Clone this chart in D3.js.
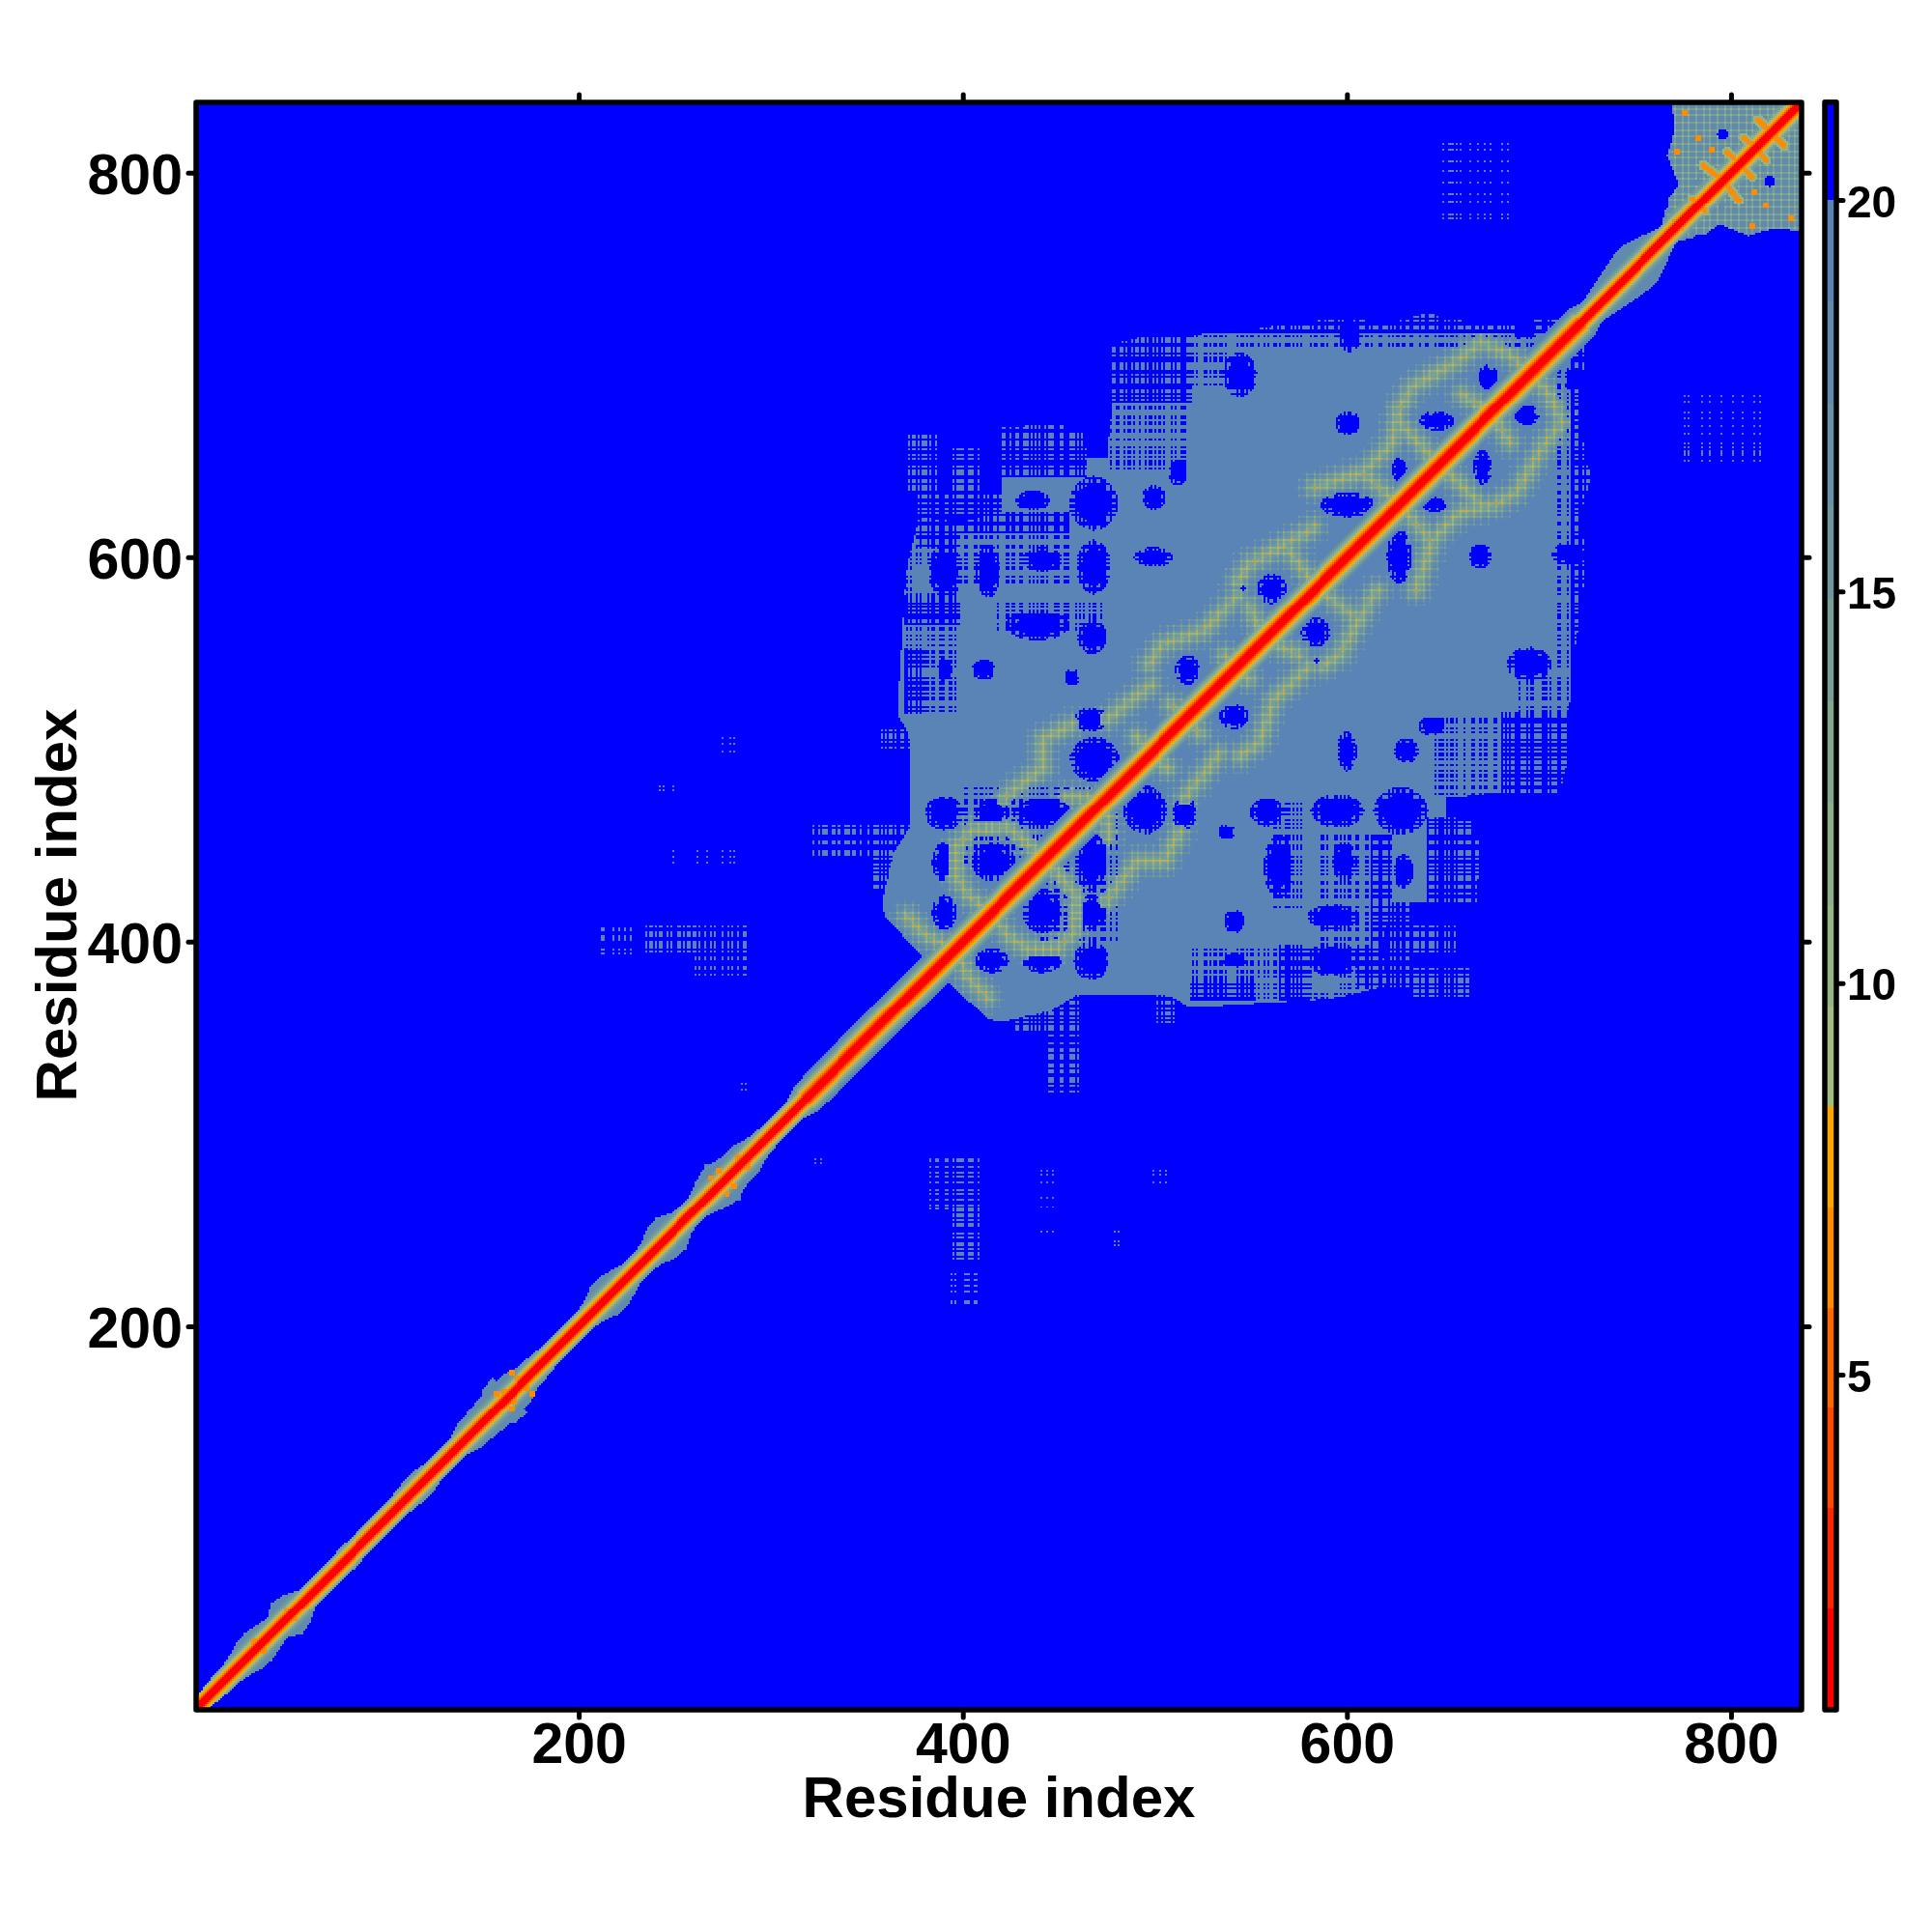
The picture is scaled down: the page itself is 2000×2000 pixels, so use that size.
<!DOCTYPE html>
<html><head><meta charset="utf-8">
<script src="https://cdn.jsdelivr.net/npm/d3@7/dist/d3.min.js"></script>
<style>
html,body{margin:0;padding:0;background:#fff;}
#wrap{position:relative;width:2000px;height:2000px;}
canvas,svg{position:absolute;left:0;top:0;}
text{font-family:"Liberation Sans",Arial,sans-serif;font-weight:700;fill:#000;}
</style></head><body><div id="wrap"><canvas id="c" width="2000" height="2000"></canvas><svg id="s" width="2000" height="2000"></svg></div>
<script>
// ---- Chart data. Pairs are [lower residue, higher residue]; the map is symmetric.
const residueCount = 836;
const axisTicks = [200, 400, 600, 800];
const colorbarTicks = [5, 10, 15, 20];
const colorBreaks = [2.01, 3.3, 4.58, 5.85, 7.14, 8.43, 9.7, 11, 12.3, 13.6, 14.9, 16.1, 17.4, 18.7, 20];
const colorLevels = ["#ff0000","#fb2800","#ff4800","#ff6800","#ff8c00","#ffa500",
  "#a0bc80","#96b584","#8cae88","#82a68e","#799e95","#70979e","#6890a6","#608aae","#5a84b6","#0000ff"];
const colorbarMin = 0.72, colorbarMax = 21.25;
const farValue = 22, baseValue = 19.5;

// contact-distance envelope around the diagonal, one entry per 5 residues
const bandWidth = [6,7,8,8,10,13,14,12,10,16,14,9,8,8,8,9,9,8,8,8,8,9,10,11,9,8,8,9,12,13,14,15,15,14,11,10,9,8,8,8,
  8,10,14,15,12,9,9,11,15,16,11,9,10,14,17,15,13,13,10,9,8,8,9,12,13,13,13,13,13,13,13,13,13,13,13,13,13,13,13,13,
  13,13,13,13,13,13,13,13,13,13,13,13,13,13,13,13,13,13,13,13,13,13,13,13,13,13,13,13,13,13,13,13,13,13,13,13,13,13,13,13,
  13,13,13,13,13,13,13,13,13,13,13,13,13,13,13,13,13,13,13,13,13,13,13,13,13,10,12,14,16,18,18,15,11,8,14,14,14,14,14,14,14,14,14,14,14,14,14,14];
const thinOffsetValues = [1,1,1.6,3.5,6,7.6,9,11.5,14,16,17,18,18,18,18,18,18,18,18];
const wideOffsetValues = [1,1,1,2.5,5,7,8.2,9.5,11,13,15,17,19,19,19,19,19,19,19];
const wideBandFrom = 318, wideBandTo = 722;

const mainRegion = [[722,722],[698,724.6],[682.6,722],[664.6,722],[641.5,727],[621,722],[595.4,724.6],[574.9,722],[539,717],[518.5,715.6],
  [491.5,714.3],[477.4,710.5],[477.4,677],[475,651.5],[464.6,651.5],[463.3,664.3],[449.2,669.5],[421,667],[421,623.3],[398,618.2],[377.4,620.8],
  [371,595.1],[369.7,579.7],[367.2,538.7],[366,518.2],[372,508],[372.3,482.3],[372.3,459.2],[364,446],[360,428.4],
  [358,420.7],[359.5,413],[380,391.3],[387.7,387.4]];
const endBlock = [[769.6,838],[770.5,820.7],[767,809],[768.8,804],[773,794],[768,787],[766.3,772],[772,772],[838,838]];
const sideLobes = [
  [[146.6,154],[149.9,167.5],[155,173.4],[160,169],[160.9,162]],
  [[162.5,167.5],[165.8,176],[170,176.6],[171,171]],
  [[262,268],[265,276],[266,285],[271,285],[272,278],[278,280]]
];
// dense streaks inside the blocks: [low from, low to, high from, high to]
const laceHeavy = [[477,519,681,716],[421,464,642,669],[377,398,606,621],[370,398,565,580],[370,381,519,552],[398,455,613,623],[520,722,717,730]];
const laceMedium = [[477,519,646,681],[371,398,519,619],[398,455,586,621],[418,472,560,576],[520,722,708,717],[400,470,440,480],[520,545,690,716]];
const solidPatches = [[421.6,440,631,641],[375,385,582,596]];
// small stippled groups away from the blocks
const stipplePatches = [[275,288,383,408],[261,271,383,408],[235,261,394,408],[322,372,444,460],[352,372,428,446],[358,376,500,510],[371,386,633,663],[393,410,633,656],[377,421,622,633]];
const specklePatches = [[211,228,394,408],[423,434,685,700],[447,460,685,705],[650,685,775,816],[243,250,478,486],[275,282,498,508],[284,288,322,328],[248,283,440,448],[241,245,476,482],[370,383,652,660]];
// blue holes: [low centre, high centre, low radius, high radius]
const holes = [[390.3,415.1,5,7],[415.9,441.3,9,8],[390.3,441.3,5,8],[390.3,466.9,8,7],[415.4,466.9,7,6],[441.5,466.9,12,6],[465.9,472,6,6],
  [468.5,495,10,9],[466.7,515.6,7,5],[517.2,541.3,5,6],[467.2,558.5,6,7],[439,564.3,13,6],[441.5,599,8,5],[468,595,7,11],[391,593,7,11],
  [413,593,5,11],[436.4,629.4,7,4],[468,628,10,11],[499.5,631,5,5],[499.2,600.2,8,4],[560.8,583.6,6,6],[544.1,586.1,3,3],[600.5,627.2,11,5],
  [627.4,645.1,3,5],[600.5,669.5,5,5],[646.7,670.7,7,4],[673.6,693.8,4,5],[544.1,695.1,7,9],[512,643.8,4,5],[692.8,719.5,6,5],[601.8,716.9,5,8],
  [410.8,541.3,5,4],[390.3,541.3,3,5],[457,537.4,3,4],[795.6,820,3,3],[783,795.3,2,2],[795.6,782.6,3,2]];
const holeSize = 0.88;
// ridges of near contacts off the diagonal
const contactRidges = [
  [[395.4,396.4],[381.3,402.8],[371,413]],
  [[396.7,449],[396.7,433.6],[403,423.3],[414.6,415.6]],
  [[396.7,449],[404.4,458],[423.6,459.2],[436.4,449],[441.5,441.3]],
  [[421,474.6],[441.5,490],[441.5,505.4],[457,513]],
  [[454.4,475.9],[475,474.6]],
  [[475,515.6],[498,533.6]],
  [[496.7,543.8],[503,554],[526,561.8],[542.8,579.7]],
  [[490.3,506.6],[498,497.7]],
  [[508.2,523.3],[516,518.2]],
  [[536.4,549],[542.8,541.3]],
  [[549.2,574.6],[557,556.6]],
  [[542.8,587.4],[549.2,596.4],[578.7,613],[582.6,615.6]],
  [[569.8,602.8],[583.9,584.9]],
  [[582.6,636],[608.2,643.8],[623.6,659.2],[627.4,677.2],[633.9,688.7],[654.4,700.2],[669.8,711.8],[685.1,705.4],[696.7,695.1]],
  [[608.2,643.8],[627.4,627.2]],
  [[627.4,669.5],[646.7,649]],
  [[659.5,684.9],[676.2,674.6]]
];
const crossArms = [
  [[814,827.4],[821.6,820]],[[806.5,818.2],[813.2,812.4]],[[798,810.7],[805.3,804]],[[785.5,804],[796.4,795.6]],
  [[779.7,786.4],[784,783]],[[770.5,774.7],[773,772.5]]
];
const orangeSpots = [[776,831],[772,811],[790,812],[783,818],[268.8,277.3],[273,281],[283,288],[161,166],[165,176],[168,173],[157,165],[48,52],[31,36]];
// residues on the repeating contact lattice
const latticeResidues = [362,366,370,374,377,381,385,389,393,396,400,404,408,412,415,419,423,427,431,434,438,442,446,450,453,457,461,465,469,472,476,480,484,488,491,495,499,503,507,510,514,518,522,526,529,533,537,541,545,548,552,556,560,564,567,571,575,579,583,586,590,594,598,602,605,609,613,617,621,624,628,632,636,640,643,647,651,655,659,662,666,670,674,678,681,685,689,693,697,700,704,708,712,716,719,723,727,731,
  771,775,778,782,786,789,793,797,800,804,808,811,815,819,822,826,830,833];
// residues whose rows and columns show blue streaks, first character is residue 200
const streakMask = ["0110100110","1001011001","0110010110","1011001001","0100110101","1100101001","0010110110","1001001101","0110110010","1001010110",
  "0011011001","1010010011","0101101000","1100100110","0010011011","1011000101","0100101100","1101001010","0010110011","1001101000",
  "0110001101","1010110010","0001101100","1100010101","0110100011","1001110001","0101001011","0011100100","1100101101","0010010110",
  "1011010001","0100111000","1010001101","0110110100","0001011010","1100100101","0011010011","1010101000","0101100110","1000110101",
  "0110011000","1101000110","0010101101","1001100010","0110001011","1010110100","0100011001","1011000110","0101010011","1000101100",
  "0011101000","1100010110","0110100101","0001011100"].join("");
const speckleResidues = [212,213,218,221,224,227,242,244,249,262,267,275,279,281,285,287,323,326,394,396,401,402,403,406,407,441,444,447,449,452,457,479,481,499,503,506,
  424,427,431,433,650,654,655,659,664,668,672,675,681,684,653,657,776,778,785,789,795,801,806,812,815];

// ---- Scales and colour
const x = d3.scaleLinear().domain([0.5, residueCount + 0.5]).range([202.5, 1864.5]);
const y = d3.scaleLinear().domain([0.5, residueCount + 0.5]).range([1770, 106]);
const cy = d3.scaleLinear().domain([5, 20]).range([1423, 207]);
const color = d3.scaleThreshold().domain(colorBreaks).range(colorLevels);
const bandAt = d3.scaleLinear().domain(bandWidth.map((_, k) => 3 + 5 * k)).range(bandWidth).clamp(true);

// ---- Field lookup helpers
const lattice = new Set(latticeResidues), speckle = new Set(speckleResidues);
const gap = r => streakMask[r - 200] === "1";
const inRect = (rs, i, j) => rs.some(r => i >= r[0] && i <= r[1] && j >= r[2] && j <= r[3]);
function segDist(p, a, b) {
  const dx = b[0]-a[0], dy = b[1]-a[1];
  const t = Math.max(0, Math.min(1, ((p[0]-a[0])*dx + (p[1]-a[1])*dy) / (dx*dx + dy*dy)));
  return Math.hypot(p[0]-a[0]-t*dx, p[1]-a[1]-t*dy);
}
function lineDist(lines, p) {
  let m = Infinity;
  for (const l of lines) for (let k = 0; k < l.length-1; k++) m = Math.min(m, segDist(p, l[k], l[k+1]));
  return m;
}
function cellValue(i, j) {
  const d = j - i, m = (i + j) / 2;
  const hw = bandAt(m);
  const profile = m >= wideBandFrom && m <= wideBandTo ? wideOffsetValues : thinOffsetValues;
  const bandV = d <= hw ? (profile[d] ?? baseValue) : farValue;
  if (d > 20 && i < 140) return farValue;
  const p = [i, j];
  if (i < 200) {
    let v = bandV;
    if (sideLobes.some(l => d3.polygonContains(l, p))) v = Math.min(v, baseValue - 2);
    for (const s of orangeSpots) if (Math.hypot(i-s[0], j-s[1]) < 1.6) v = Math.min(v, 7);
    return v;
  }
  const inMain = i >= 350 && i <= 724 && j >= 385 && j <= 730 && d3.polygonContains(mainRegion, p);
  const inEnd = i >= 764 && d3.polygonContains(endBlock, p);
  const inLobe = sideLobes.some(l => d3.polygonContains(l, p));
  let v = farValue;
  if (inMain || inEnd || inLobe) v = baseValue;
  const gi = gap(i), gj = gap(j);
  if (inRect(stipplePatches, i, j) && !gi && !gj) v = baseValue;
  if (inRect(specklePatches, i, j) && speckle.has(i) && speckle.has(j)) v = baseValue;
  if (inMain) {
    if (inRect(laceHeavy, i, j) && (gi || gj)) v = farValue;
    else if (inRect(laceMedium, i, j) && gi && gj) v = farValue;
    if (inRect(solidPatches, i, j)) v = baseValue;
  }
  if (inMain || inEnd) {
    for (const h of holes) {
      const e = Math.hypot((i-h[0])/h[2], (j-h[1])/h[3]) / holeSize;
      if (e <= 1) v = farValue;
      else if (e <= 1.45 && (gi || gj)) v = farValue;
    }
  }
  const li = lattice.has(i), lj = lattice.has(j);
  if (inMain) {
    const r = lineDist(contactRidges, p);
    if (r < 10) {
      const w = (li && lj ? 7 : (li || lj ? 10.5 : 13.5)) + r * 0.9;
      if (w < 19 && (v < farValue || r < 4)) v = Math.min(v, w);
    }
  }
  if (inEnd) {
    if (v === baseValue) {
      if (li && lj) v = 10; else if (li || lj) v = 14.5; else v = 18.5;
    }
    const r = lineDist(crossArms, p);
    if (r < 1.3) v = 6.5; else if (r < 2.6) v = Math.min(v, 10);
  }
  if (i > 200) for (const s of orangeSpots) if (Math.hypot(i-s[0], j-s[1]) < 1.5) v = Math.min(v, 7);
  return Math.min(v, bandV);
}

// ---- Heat map
const ctx = document.getElementById("c").getContext("2d");
ctx.fillStyle = color(farValue);
ctx.fillRect(x(0.5), y(residueCount + 0.5), x(residueCount + 0.5) - x(0.5), y(0.5) - y(residueCount + 0.5));
const px = r => Math.round(x(r)), py = r => Math.round(y(r));
for (let i = 1; i <= residueCount; i++) {
  for (let j = i; j <= residueCount; j++) {
    const v = cellValue(i, j);
    if (v >= 20) continue;
    ctx.fillStyle = color(v);
    ctx.fillRect(px(i-.5), py(j+.5), px(i+.5)-px(i-.5), py(j-.5)-py(j+.5));
    if (i !== j) ctx.fillRect(px(j-.5), py(i+.5), px(j+.5)-px(j-.5), py(i-.5)-py(i+.5));
  }
}

// ---- Colour bar
const barX0 = 1890, barX1 = 1900;
const edges = [colorbarMin, ...colorBreaks, colorbarMax];
colorLevels.forEach((c, k) => {
  ctx.fillStyle = c;
  const t = Math.round(cy(edges[k+1])), b = Math.round(cy(edges[k]));
  ctx.fillRect(barX0, t, barX1 - barX0, b - t);
});

// ---- Axes and frames
const svg = d3.select("#s");
const fs = 59;
function styleAxis(g, size, dy) {
  g.select(".domain").remove();
  g.selectAll(".tick line").attr("stroke", "#000").attr("stroke-width", 5).attr("stroke-linecap", "round");
  g.selectAll(".tick text").attr("font-size", size).attr("transform", `translate(0,${dy})`);
}
svg.append("g").attr("transform", "translate(0,1770)")
  .call(d3.axisBottom(x).tickValues(axisTicks).tickSize(8).tickPadding(8).tickSizeOuter(0)).call(styleAxis, fs, -2.5);
svg.append("g").attr("transform", "translate(0,106)")
  .call(d3.axisTop(x).tickValues(axisTicks).tickSize(8).tickFormat("").tickSizeOuter(0)).call(styleAxis, fs, 0);
svg.append("g").attr("transform", "translate(203,0)")
  .call(d3.axisLeft(y).tickValues(axisTicks).tickSize(8).tickPadding(6).tickSizeOuter(0)).call(styleAxis, fs, 2.5);
svg.append("g").attr("transform", "translate(1865,0)")
  .call(d3.axisRight(y).tickValues(axisTicks).tickSize(8).tickFormat("").tickSizeOuter(0)).call(styleAxis, fs, 0);
svg.append("g").attr("transform", `translate(${barX1 + 3},0)`)
  .call(d3.axisRight(cy).tickValues(colorbarTicks).tickSize(5).tickPadding(4).tickSizeOuter(0)).call(styleAxis, 46, 2.5);

svg.append("rect").attr("x", 203).attr("y", 106).attr("width", 1662).attr("height", 1664)
  .attr("fill", "none").attr("stroke", "#000").attr("stroke-width", 5.5).attr("stroke-linejoin", "round");
svg.append("rect").attr("x", barX0 - 1).attr("y", cy(colorbarMax)).attr("width", barX1 - barX0 + 2)
  .attr("height", cy(colorbarMin) - cy(colorbarMax))
  .attr("fill", "none").attr("stroke", "#000").attr("stroke-width", 5.5).attr("stroke-linejoin", "round");

svg.append("text").attr("x", 1034).attr("y", 1881).attr("text-anchor", "middle").attr("font-size", 60).text("Residue index");
svg.append("text").attr("transform", "translate(79,937) rotate(-90)").attr("text-anchor", "middle").attr("font-size", 60).text("Residue index");
</script></body></html>
